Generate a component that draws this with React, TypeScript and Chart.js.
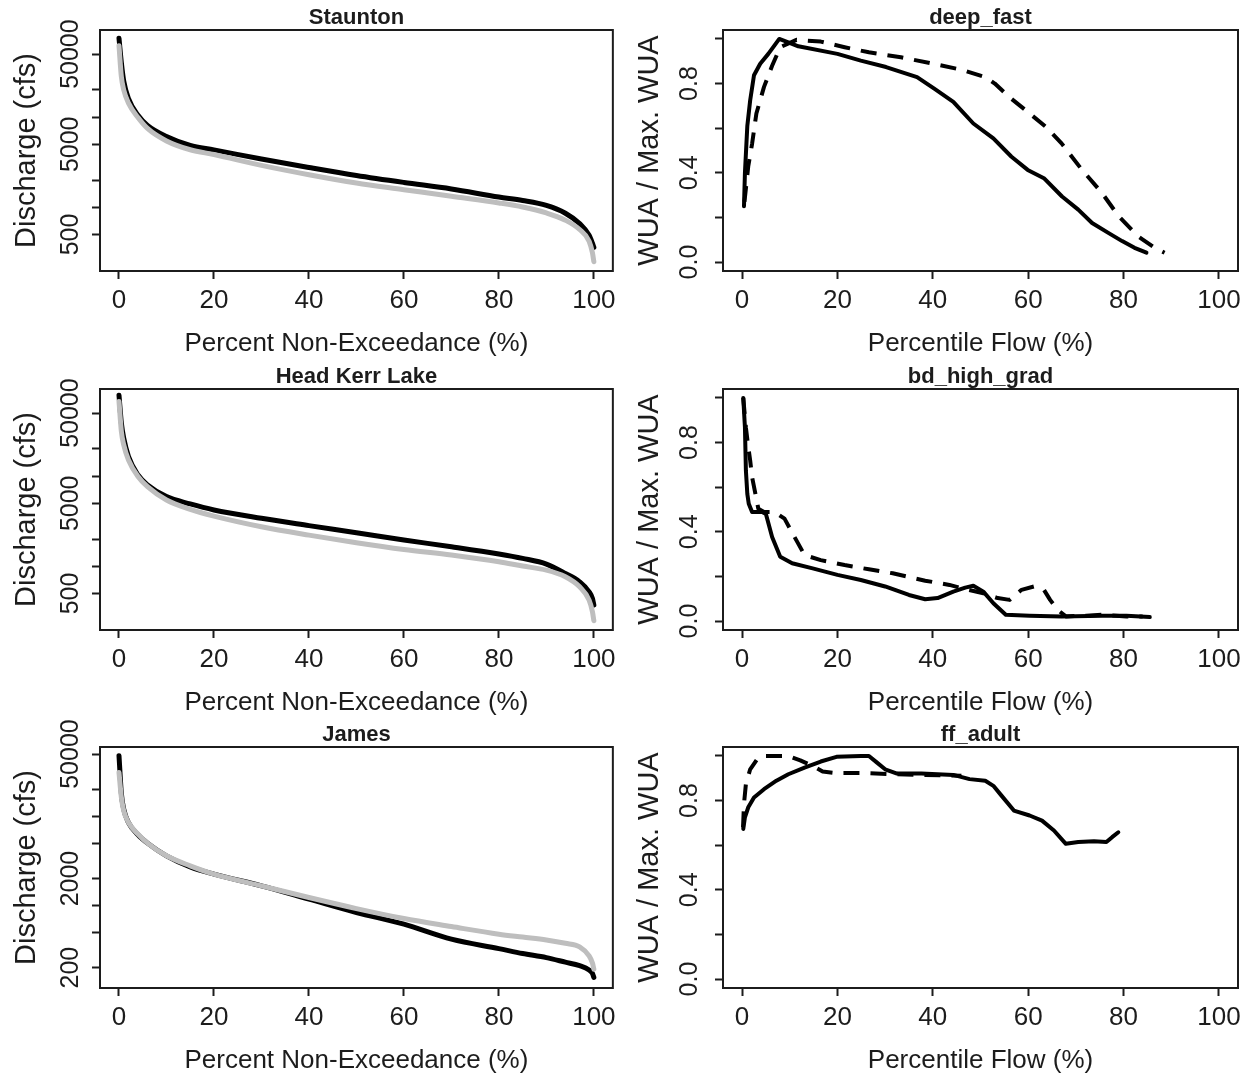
import React, { useEffect, useRef } from "react";
import { Chart, registerables } from "chart.js";

Chart.register(...registerables);

// ---------- fonts / colours ----------
const SANS = "'Liberation Sans', Arial, sans-serif";
const INK = "#1c1c1c";
const BLACK = "#000000";
const GRAY = "#bebebe";

// ---------- axis ticks ----------
const X_TICKS = [0, 20, 40, 60, 80, 100];
const LOG_TICKS_A = [500, 1000, 2000, 5000, 10000, 20000, 50000];
const LOG_LABELS_A = ["500", "", "", "5000", "", "", "50000"];
const LOG_TICKS_B = [200, 500, 1000, 2000, 5000, 10000, 20000, 50000];
const LOG_LABELS_B = ["200", "", "", "2000", "", "", "", "50000"];
const WUA_TICKS = [0, 0.2, 0.4, 0.6, 0.8, 1.0];
const WUA_LABELS = ["0.0", "", "0.4", "", "0.8", ""];

// ---------- flow duration curves (percent non-exceedance, cfs) ----------
const PCT = [0, 0.5, 1, 2, 4, 6, 10, 15, 20, 30, 40, 50, 60, 70, 80, 85, 90, 94, 97, 99, 99.7, 100];
const STAUNTON_BLACK = [75000, 40000, 25000, 16000, 10500, 8100, 6100, 4850, 4340, 3430, 2770, 2260, 1890, 1600, 1300, 1190, 1050, 860, 660, 490, 400, 360];
const STAUNTON_GRAY = [62000, 28000, 20000, 14300, 9900, 7500, 5450, 4350, 3850, 2920, 2300, 1860, 1570, 1325, 1120, 1010, 868, 721, 568, 422, 313, 250];
const KERR_BLACK = [79000, 38700, 26300, 16500, 10300, 8000, 5930, 4920, 4220, 3410, 2830, 2360, 1960, 1650, 1370, 1225, 1060, 834, 674, 522, 440, 372];
const KERR_GRAY = [67400, 31300, 22200, 15100, 9900, 7650, 5440, 4290, 3610, 2750, 2220, 1830, 1540, 1335, 1125, 1007, 908, 766, 593, 422, 313, 250];
const JAMES_BLACK = [48000, 18000, 12000, 8500, 6200, 5000, 3600, 2700, 2240, 1655, 1172, 830, 614, 417, 327, 288, 259, 230, 210, 188, 172, 155];
const JAMES_GRAY = [31000, 16300, 11500, 8520, 6300, 5000, 3600, 2780, 2240, 1655, 1224, 920, 711, 578, 474, 440, 409, 375, 341, 270, 225, 192];

// ---------- WUA curves (percentile flow, WUA / max WUA) ----------
const DEEP_FAST_SOLID_X = [0.4, 0.6, 1.1, 1.7, 2.5, 3.8, 5.5, 7.8, 9.7, 11.8, 20, 24.9, 30.2, 36.7, 40.3, 44.3, 48.5, 52.7, 56.5, 59.9, 63.3, 67.1, 70.5, 73.4, 76.8, 79.7, 82.3, 84.8];
const DEEP_FAST_SOLID_Y = [0.25, 0.4, 0.61, 0.725, 0.837, 0.889, 0.933, 1.0, 0.985, 0.967, 0.933, 0.903, 0.874, 0.829, 0.777, 0.718, 0.621, 0.554, 0.472, 0.413, 0.376, 0.294, 0.235, 0.175, 0.131, 0.094, 0.064, 0.042];
const DEEP_FAST_DASH_X = [0.5, 1.3, 2.1, 3.0, 4.6, 6.3, 8.0, 11.4, 16.5, 21.5, 26.6, 33.3, 40, 46, 51, 53, 56, 60.3, 63.7, 67, 71.3, 75.5, 79, 83, 86.5, 88.6];
const DEEP_FAST_DASH_Y = [0.27, 0.43, 0.53, 0.666, 0.785, 0.88, 0.963, 0.996, 0.988, 0.963, 0.94, 0.918, 0.889, 0.862, 0.829, 0.8, 0.74, 0.666, 0.606, 0.532, 0.413, 0.309, 0.205, 0.116, 0.064, 0.042];

const BD_SOLID_X = [0.25, 0.6, 0.8, 1.1, 1.4, 2.1, 4.2, 5.0, 6.3, 8.0, 10.5, 14.8, 20, 24.9, 30, 35, 38.4, 41, 44.3, 46.8, 48.5, 50.6, 52.7, 55.3, 60.3, 67, 75.5, 80.6, 85.5];
const BD_SOLID_Y = [1.0, 0.868, 0.675, 0.57, 0.526, 0.489, 0.489, 0.48, 0.377, 0.288, 0.259, 0.236, 0.207, 0.184, 0.155, 0.117, 0.098, 0.103, 0.132, 0.15, 0.158, 0.132, 0.08, 0.028, 0.024, 0.021, 0.024, 0.024, 0.018];
const BD_DASH_X = [0.25, 0.8, 1.3, 1.7, 2.1, 2.8, 3.4, 4.6, 6.8, 8.9, 11, 13.1, 16.5, 21.5, 26.6, 31.6, 38.4, 43.5, 46.8, 50.6, 53.6, 56.1, 58.6, 61.2, 63.3, 64.6, 66.2, 67.9, 72.2, 75.5, 80.6, 84];
const BD_DASH_Y = [1.0, 0.868, 0.78, 0.72, 0.645, 0.57, 0.504, 0.489, 0.489, 0.459, 0.377, 0.296, 0.273, 0.251, 0.232, 0.214, 0.181, 0.162, 0.143, 0.125, 0.103, 0.095, 0.14, 0.155, 0.14, 0.095, 0.05, 0.021, 0.024, 0.028, 0.021, 0.021];

const FF_SOLID_X = [0.25, 0.6, 1.3, 2.5, 4.6, 7.2, 9.7, 13.1, 16.5, 19.8, 24.9, 26.6, 28.3, 30, 32.5, 37.6, 44.3, 47.7, 51, 52.7, 54.4, 57, 60.3, 62.9, 65.4, 67.9, 70.5, 73.8, 76.4, 77.6, 78.9];
const FF_SOLID_Y = [0.673, 0.725, 0.77, 0.814, 0.851, 0.889, 0.918, 0.948, 0.975, 0.996, 1.0, 1.0, 0.97, 0.94, 0.921, 0.921, 0.915, 0.896, 0.889, 0.866, 0.822, 0.755, 0.733, 0.71, 0.666, 0.606, 0.614, 0.618, 0.614, 0.636, 0.658];
const FF_DASH_X = [0.2, 0.4, 0.8, 1.7, 3.4, 4.6, 9.7, 12.2, 14.8, 16.9, 19.8, 26.6, 31.6, 38.4, 46];
const FF_DASH_Y = [0.68, 0.785, 0.874, 0.94, 0.993, 1.0, 1.0, 0.98, 0.955, 0.93, 0.923, 0.923, 0.918, 0.915, 0.911];

// ---------- layout ----------
const ROW_TOPS = [0, 359, 717];
const ROW_H = 359;
const XAXIS_H = 88;
const TICK_LEN = 8;
const COLS = [
  { left: 0, width: 625, axisW: 100, padR: 12, tickCenterOff: 29, titlePad: 12 },
  { left: 620, width: 631, axisW: 103, padR: 13, tickCenterOff: 33, titlePad: 15 },
];

const Y_TICK_SIZE = 25;
const X_TICK_SIZE = 26;
const X_TITLE_SIZE = 26;
const Y_TITLE_SIZE = 29;
const MAIN_SIZE = 22;

function textWidth(text: string, font: string): number {
  const c = document.createElement("canvas").getContext("2d")!;
  c.font = font;
  return c.measureText(text).width;
}

const boxPlugin = {
  id: "frameBox",
  afterDraw(chart: any) {
    const { ctx, chartArea: a } = chart;
    ctx.save();
    ctx.strokeStyle = INK;
    ctx.lineWidth = 2;
    ctx.strokeRect(a.left, a.top, a.right - a.left, a.bottom - a.top);
    ctx.restore();
  },
};

type Series = { x: number[]; y: number[]; color: string; width: number; dash?: number[]; smooth?: boolean };
type PanelSpec = {
  row: number;
  col: number;
  title: string;
  xTitle: string;
  yTitle: string;
  log: boolean;
  yMin: number;
  yMax: number;
  yTicks: number[];
  yLabels: string[];
  series: Series[];
};

function buildConfig(p: PanelSpec): any {
  const col = COLS[p.col];
  const yFont = `${Y_TICK_SIZE}px ${SANS}`;
  const widest = Math.max(...p.yLabels.map((l) => textWidth(l, yFont)));
  const yPad = col.tickCenterOff - TICK_LEN - widest / 2;
  return {
    type: "line",
    data: {
      datasets: p.series.map((s) => ({
        data: s.x.map((x, i) => ({ x, y: s.y[i] })),
        borderColor: s.color,
        borderWidth: s.width,
        borderDash: s.dash || [],
        borderCapStyle: s.dash ? "butt" : "round",
        borderJoinStyle: "round",
        pointRadius: 0,
        fill: false,
        tension: 0,
        cubicInterpolationMode: s.smooth ? "monotone" : "default",
      })),
    },
    options: {
      responsive: false,
      animation: false,
      devicePixelRatio: 1,
      events: [],
      layout: { padding: { left: 0, right: col.padR, top: 0, bottom: 0 } },
      plugins: {
        legend: { display: false },
        tooltip: { enabled: false },
        title: {
          display: true,
          fullSize: false,
          text: p.title,
          color: INK,
          font: { family: SANS, size: MAIN_SIZE, weight: "bold", lineHeight: "25px" },
          padding: { top: 5, bottom: 0 },
        },
      },
      scales: {
        x: {
          type: "linear",
          min: -4,
          max: 104,
          afterBuildTicks: (s: any) => {
            s.ticks = X_TICKS.map((v) => ({ value: v }));
          },
          afterFit: (s: any) => {
            s.height = XAXIS_H;
          },
          ticks: {
            autoSkip: false,
            maxRotation: 0,
            minRotation: 0,
            padding: 9,
            color: INK,
            font: { family: SANS, size: X_TICK_SIZE, lineHeight: "26px" },
            callback: (v: any) => String(v),
          },
          grid: { display: true, drawOnChartArea: false, drawTicks: true, tickLength: TICK_LEN, tickColor: INK, tickWidth: 2, color: INK },
          border: { display: false },
          title: {
            display: true,
            text: p.xTitle,
            color: INK,
            font: { family: SANS, size: X_TITLE_SIZE, lineHeight: "26px" },
            padding: { top: 0, bottom: 2 },
          },
        },
        y: {
          type: p.log ? "logarithmic" : "linear",
          min: p.yMin,
          max: p.yMax,
          afterBuildTicks: (s: any) => {
            s.ticks = p.yTicks.map((v) => ({ value: v }));
          },
          afterFit: (s: any) => {
            s.width = col.axisW;
          },
          ticks: {
            autoSkip: false,
            minRotation: 90,
            maxRotation: 90,
            crossAlign: "center",
            padding: yPad,
            color: INK,
            font: { family: SANS, size: Y_TICK_SIZE, lineHeight: "25px" },
            callback: (_v: any, i: number) => p.yLabels[i] ?? "",
          },
          grid: { display: true, drawOnChartArea: false, drawTicks: true, tickLength: TICK_LEN, tickColor: INK, tickWidth: 2, color: INK },
          border: { display: false },
          title: {
            display: true,
            text: p.yTitle,
            color: INK,
            font: { family: SANS, size: Y_TITLE_SIZE, lineHeight: "29px" },
            padding: { top: col.titlePad, bottom: 0 },
          },
        },
      },
    },
    plugins: [boxPlugin],
  };
}

const fdc = (black: number[], gray: number[]): Series[] => [
  { x: PCT, y: gray, color: GRAY, width: 5, smooth: true },
  { x: PCT, y: black, color: BLACK, width: 5, smooth: true },
];

const PANELS: PanelSpec[] = [
  {
    row: 0, col: 0, title: "Staunton", xTitle: "Percent Non-Exceedance (%)", yTitle: "Discharge (cfs)",
    log: true, yMin: 197, yMax: 92500, yTicks: LOG_TICKS_A, yLabels: LOG_LABELS_A,
    series: fdc(STAUNTON_BLACK, STAUNTON_GRAY),
  },
  {
    row: 1, col: 0, title: "Head Kerr Lake", xTitle: "Percent Non-Exceedance (%)", yTitle: "Discharge (cfs)",
    log: true, yMin: 197, yMax: 92500, yTicks: LOG_TICKS_A, yLabels: LOG_LABELS_A,
    series: fdc(KERR_BLACK, KERR_GRAY),
  },
  {
    row: 2, col: 0, title: "James", xTitle: "Percent Non-Exceedance (%)", yTitle: "Discharge (cfs)",
    log: true, yMin: 118, yMax: 60000, yTicks: LOG_TICKS_B, yLabels: LOG_LABELS_B,
    series: fdc(JAMES_BLACK, JAMES_GRAY),
  },
  {
    row: 0, col: 1, title: "deep_fast", xTitle: "Percentile Flow (%)", yTitle: "WUA / Max. WUA",
    log: false, yMin: -0.04, yMax: 1.04, yTicks: WUA_TICKS, yLabels: WUA_LABELS,
    series: [
      { x: DEEP_FAST_SOLID_X, y: DEEP_FAST_SOLID_Y, color: BLACK, width: 4 },
      { x: DEEP_FAST_DASH_X, y: DEEP_FAST_DASH_Y, color: BLACK, width: 4, dash: [16, 11] },
    ],
  },
  {
    row: 1, col: 1, title: "bd_high_grad", xTitle: "Percentile Flow (%)", yTitle: "WUA / Max. WUA",
    log: false, yMin: -0.04, yMax: 1.04, yTicks: WUA_TICKS, yLabels: WUA_LABELS,
    series: [
      { x: BD_SOLID_X, y: BD_SOLID_Y, color: BLACK, width: 4 },
      { x: BD_DASH_X, y: BD_DASH_Y, color: BLACK, width: 4, dash: [16, 11] },
    ],
  },
  {
    row: 2, col: 1, title: "ff_adult", xTitle: "Percentile Flow (%)", yTitle: "WUA / Max. WUA",
    log: false, yMin: -0.04, yMax: 1.04, yTicks: WUA_TICKS, yLabels: WUA_LABELS,
    series: [
      { x: FF_SOLID_X, y: FF_SOLID_Y, color: BLACK, width: 4 },
      { x: FF_DASH_X, y: FF_DASH_Y, color: BLACK, width: 4, dash: [16, 11] },
    ],
  },
];

function Panel({ spec }: { spec: PanelSpec }) {
  const ref = useRef<HTMLCanvasElement>(null);
  const col = COLS[spec.col];
  useEffect(() => {
    const chart = new Chart(ref.current!, buildConfig(spec));
    return () => chart.destroy();
  }, [spec]);
  return (
    <canvas
      ref={ref}
      width={col.width}
      height={ROW_H}
      style={{ position: "absolute", left: col.left, top: ROW_TOPS[spec.row], width: col.width, height: ROW_H }}
    />
  );
}

export default function App() {
  return (
    <div style={{ position: "absolute", left: 0, top: 0, width: 1251, height: 1076, background: "#ffffff", overflow: "hidden" }}>
      {PANELS.map((p) => (
        <Panel key={p.title} spec={p} />
      ))}
    </div>
  );
}
